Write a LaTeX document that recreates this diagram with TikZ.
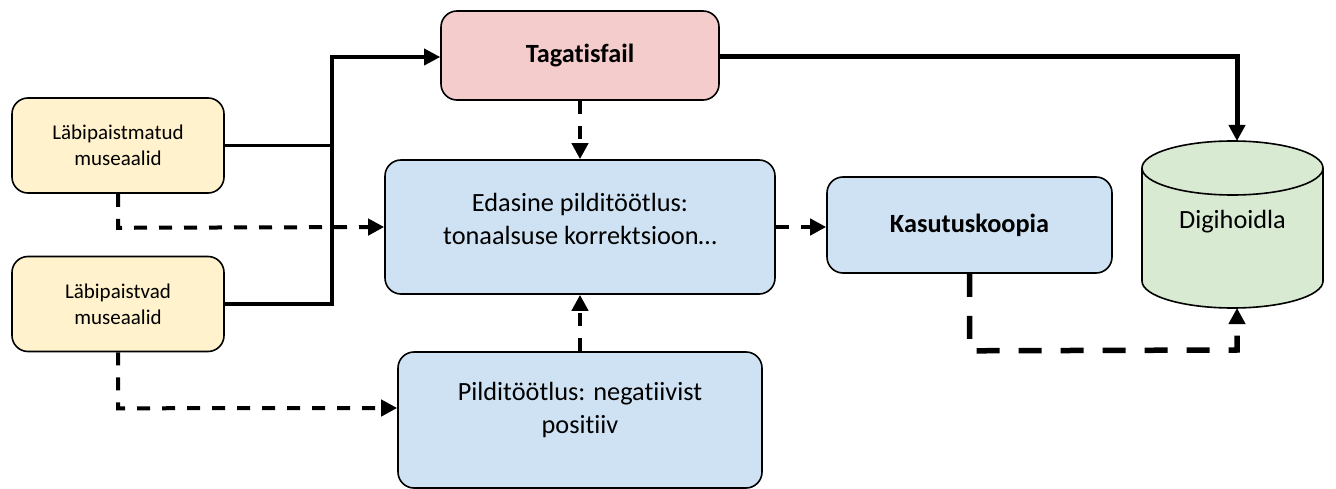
\documentclass[tikz,border=0pt]{standalone}
\usepackage{fontspec}
\setmainfont{Carlito}[Ligatures=NoCommon]
\usetikzlibrary{arrows.meta}
\definecolor{cyellow}{HTML}{FFF2CC}
\definecolor{cpink}{HTML}{F4CCCC}
\definecolor{cblue}{HTML}{CFE2F3}
\definecolor{cgreen}{HTML}{D9EAD3}
\tikzset{
  box/.style={draw=black, line width=1.6pt, rounded corners=16pt, align=center, inner sep=0pt},
  srcbox/.style={box, fill=cyellow, minimum width=212pt, minimum height=95pt, font=\fontsize{21}{26}\selectfont},
  bigfont/.style={font=\fontsize{26.3}{33}\selectfont},
  boldfont/.style={font=\fontsize{26.3}{32}\selectfont\bfseries},
  procbox/.style={box, fill=cblue, bigfont},
  solidline/.style={line width=3.5pt, line cap=rect},
  thickline/.style={line width=5pt},
  dashline/.style={line width=4pt, dash pattern=on 13pt off 12pt},
  thickdash/.style={line width=5.5pt, dash pattern=on 23pt off 19pt},
  tip/.style={-{Triangle[length=16pt,width=16pt]}},
}
\begin{document}
\begin{tikzpicture}[x=1pt,y=-1pt]
\useasboundingbox (0,0) rectangle (1336,489);
% nodes
\node[srcbox] (a) at (118,145.5) {Läbipaistmatud\\museaalid};
\node[srcbox] (b) at (118,304) {Läbipaistvad\\museaalid};
\node[box, fill=cpink, minimum width=278pt, minimum height=89pt, boldfont] (tag) at (580,55.5) {Tagatisfail};
\node[procbox, minimum width=390pt, minimum height=134pt, text depth=16pt] (eda) at (580,227) {Edasine pilditöötlus:\\tonaalsuse korrektsioon…};
\node[procbox, minimum width=285pt, minimum height=96pt, boldfont] (kas) at (969.5,225) {Kasutuskoopia};
\node[procbox, minimum width=364pt, minimum height=136pt, text depth=24pt] (pil) at (580,420) {Pilditöötlus: negatiivist\\positiiv};
% cylinder
\fill[cgreen] (1142,168) -- (1142,281) arc[start angle=180,end angle=0,x radius=90.5,y radius=27] -- (1323,168) arc[start angle=0,end angle=-180,x radius=90.5,y radius=27] -- cycle;
\draw[line width=1.6pt] (1142,168) -- (1142,281) arc[start angle=180,end angle=0,x radius=90.5,y radius=27] -- (1323,168) arc[start angle=0,end angle=-180,x radius=90.5,y radius=27] -- cycle;
\draw[line width=1.6pt] (1142,168) arc[start angle=180,end angle=0,x radius=90.5,y radius=27];
\node[bigfont] (dig) at (1232.5,222) {Digihoidla};
\coordinate (digtop) at (1237,141);
\coordinate (digbot) at (1237,308);
\coordinate (jx) at (332,57);
% solid connectors
\draw[solidline] (a.east) -- (a.east -| jx);
\draw[solidline, tip] (b.east) -- (b.east -| jx) -- (jx) -- (tag.west |- jx);
\draw[thickline, tip] (tag.east |- jx) -- (digtop |- jx) -- (digtop);
% dashed connectors
\draw[dashline, tip] (a.south) -- ++(0,34) -- (eda.west |- 0,227);
\draw[dashline, tip] (b.south) -- ++(0,56) -- (pil.west |- 0,408);
\draw[dashline, tip] (tag.south) -- (eda.north);
\draw[dashline, tip] (pil.north) -- (eda.south);
\draw[dashline, tip] (eda.east) -- (kas.west |- eda.east);
\draw[thickdash, tip] (kas.south) -- ++(0,77) -- (digbot |- 0,350) -- (digbot);
\end{tikzpicture}
\end{document}
